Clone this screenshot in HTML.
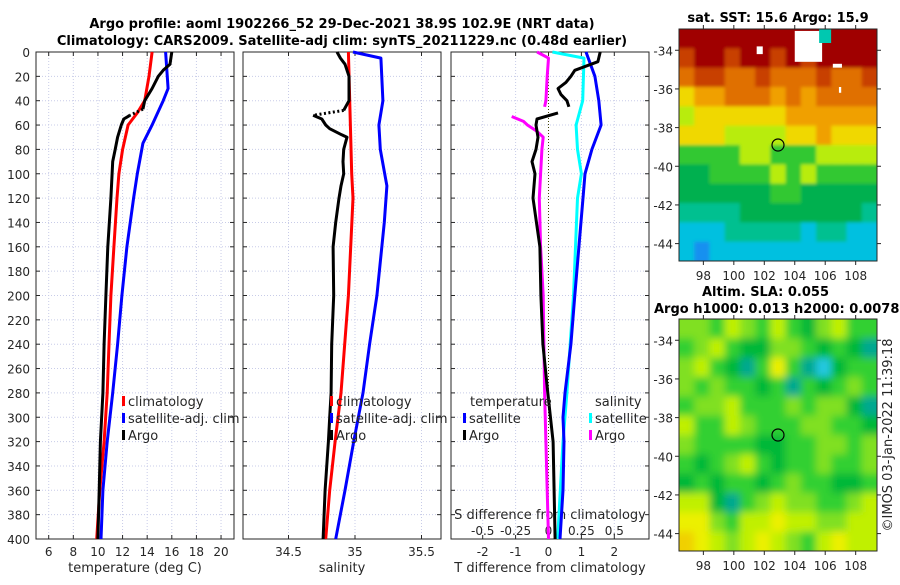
<!DOCTYPE html>
<html><head><meta charset="utf-8"><style>
body{margin:0;background:#fff}
svg text{font-family:"DejaVu Sans","Liberation Sans",sans-serif;fill:#262626}
.t{font-size:12px}
.b{font-weight:bold;font-size:13px;fill:#000}
</style></head><body>
<svg id="s" width="900" height="580" viewBox="0 0 900 580" xmlns="http://www.w3.org/2000/svg">
<defs>
<filter id="bl" x="0" y="0" width="1" height="1"><feGaussianBlur stdDeviation="4"/></filter>
<filter id="bl2" x="0" y="0" width="1" height="1"><feGaussianBlur stdDeviation="1.5"/></filter>
<clipPath id="c1"><rect x="679" y="29" width="198" height="232"/></clipPath>
<clipPath id="c2"><rect x="679" y="319" width="198" height="232"/></clipPath>
</defs>
<text class="b" x="342" y="28" text-anchor="middle">Argo profile: aoml 1902266_52 29-Dec-2021 38.9S 102.9E (NRT data)</text>
<text class="b" x="342" y="45" text-anchor="middle">Climatology: CARS2009. Satellite-adj clim: synTS_20211229.nc (0.48d earlier)</text>
<g id="g"></g>
</svg>
<script>
// ---------- data ----------
const tDepthArgo=[0,10,15,20,30,40,47,52,55,60,70,80,90,100,120,160,200,240,280,320,360,400];
const tArgo=[16.0,15.85,15.3,14.9,14.4,13.8,13.65,12.6,12.1,11.9,11.6,11.4,11.2,11.15,11.05,10.8,10.65,10.5,10.4,10.2,10.1,10.0];
const tDepthClim=[0,20,40,50,60,80,100,120,160,200,240,280,320,360,400];
const tClim=[14.4,14.15,13.8,13.2,12.45,12.0,11.7,11.55,11.3,11.05,10.9,10.75,10.5,10.15,9.9];
const tDepthSat=[0,30,40,60,75,100,120,160,200,240,280,320,360,400];
const tSat=[15.5,15.7,15.3,14.4,13.65,13.2,12.9,12.35,11.95,11.6,11.2,10.75,10.4,10.25];
const sDepthArgo=[0,5,10,20,40,48,52,55,60,63,68,70,80,90,100,110,120,140,160,200,240,280,300,320,360,400];
const sArgo=[34.865,34.89,34.925,34.955,34.955,34.915,34.685,34.75,34.78,34.81,34.9,34.94,34.915,34.91,34.915,34.895,34.88,34.855,34.835,34.84,34.825,34.82,34.81,34.8,34.775,34.76];
const sDepthClim=[0,100,120,200,280,320,360,400];
const sClim=[34.95,34.975,34.985,34.95,34.895,34.85,34.81,34.78];
const sDepthSat=[0,5,40,60,80,110,140,200,240,280,320,360,400];
const sSat=[34.985,35.195,35.21,35.18,35.19,35.24,35.22,35.165,35.11,35.06,34.99,34.925,34.855];
const dtDepthArgo=[0,8,15,20,25,30,35,40,45,null,50,55,60,70,80,90,100,120,160,200,240,280,320,360,400];
const dtArgo=[1.57,1.5,0.8,0.68,0.53,0.29,0.38,0.56,0.62,null,0.29,-0.35,-0.38,-0.32,-0.38,-0.5,-0.41,-0.47,-0.26,-0.23,-0.17,-0.02,0.14,0.17,0.2];
const dtDepthSat=[0,20,40,60,80,100,120,200,240,280,300,320,360,400];
const dtSat=[1.14,1.41,1.53,1.6,1.32,1.11,1.05,0.8,0.68,0.5,0.44,0.47,0.44,0.35];
const dsDepthArgo=[0,5,20,40,45,null,53,57,60,65,70,80,100,120,160,200,280,320,360,400];
const dsArgo=[-0.087,0,-0.01,-0.02,-0.03,null,-0.28,-0.19,-0.16,-0.09,-0.04,-0.05,-0.06,-0.07,-0.06,-0.04,-0.03,-0.02,-0.01,0];
const dsDepthSat=[0,5,40,60,80,100,120,200,280,320,360,400];
const dsSat=[0.03,0.27,0.26,0.21,0.22,0.25,0.22,0.19,0.14,0.11,0.09,0.07];
const depthTicks=[0,20,40,60,80,100,120,140,160,180,200,220,240,260,280,300,320,340,360,380,400];
const tTicks=[6,8,10,12,14,16,18,20];
const sTicks=[34.5,35,35.5];
const dtTicks=[-2,-1,0,1,2];
const dsTicks=[-0.5,-0.25,0,0.25,0.5];
const dsTickLabels=["-0.5","-0.25","0","0.25","0.5"];
const latTicks=[-34,-36,-38,-40,-42,-44];
const lonTicks=[98,100,102,104,106,108];
const sstGrid=[
[0,0,0,0,0,0,0,0,0,0,0,0,0],
[1,0,0,1,0,0,1,0,1,0,0,0,0],
[2,1,1,2,2,1,2,2,2,1,2,2,1],
[4,3,3,2,2,2,3,2,3,2,2,2,2],
[5,4,4,4,4,4,4,3,3,3,3,3,3],
[4,4,4,5,5,5,5,4,4,3,4,4,4],
[6,6,6,6,5,5,6,6,6,5,5,5,5],
[7,7,6,6,6,6,5,6,5,6,6,6,6],
[7,7,7,7,7,7,6,6,7,7,7,7,7],
[8,8,8,8,7,7,7,7,7,7,7,7,8],
[9,9,9,8,8,8,8,8,9,8,8,9,9],
[9,10,9,9,9,9,9,9,9,9,9,9,9]];
const slaGrid=[
[4,4,3,5,4,3,5,3,2,4,5,3,3],
[3,4,5,3,2,2,4,4,3,2,3,2,1],
[4,5,3,2,1,3,6,3,1,0,2,3,3],
[4,3,4,3,3,2,3,1,3,2,3,4,3],
[3,4,4,5,3,3,3,4,3,4,4,2,1],
[5,3,3,5,4,3,3,3,4,4,3,3,2],
[4,3,3,3,3,2,2,3,3,4,4,3,4],
[3,2,3,4,5,3,2,3,3,4,3,3,4],
[2,3,2,3,3,2,3,4,3,3,2,2,3],
[5,5,2,1,3,4,5,4,4,3,3,4,5],
[6,6,4,3,5,5,6,5,5,4,4,5,5],
[7,6,5,4,5,6,5,4,3,5,6,5,5]];
const argoLon=102.9, argoLat=-38.9;

// ---------- drawing ----------
const NS="http://www.w3.org/2000/svg";
const G=document.getElementById('g');
function mk(tag,at,parent){const e=document.createElementNS(NS,tag);for(const k in at)e.setAttribute(k,at[k]);(parent||G).appendChild(e);return e;}
const Y0=52,Y1=539;
const yD=d=>Y0+d*(Y1-Y0)/400;
const xT=v=>48.7+(v-6)*12.31;
const xS=v=>355+(v-35)*133;
const xDT=v=>548.5+v*32.9;
const xDS=v=>548.5+v*131.6;
const panels=[[36,234],[243,441],[451,649]];

panels.forEach((p,i)=>{
  const fr=mk('g',{});
  
  
  let xt=i==0?tTicks.map(xT):i==1?sTicks.map(xS):dtTicks.map(xDT);
  xt.forEach(x=>{const l=mk('line',{x1:x,x2:x,y1:Y0,y2:Y1,stroke:'#c8cce8','stroke-dasharray':'1,2','stroke-width':1},fr);
    mk('line',{x1:x,x2:x,y1:Y1,y2:Y1-4,stroke:'#262626'},fr);mk('line',{x1:x,x2:x,y1:Y0,y2:Y0+4,stroke:'#262626'},fr);});
  depthTicks.forEach(d=>{const y=yD(d);const l=mk('line',{x1:p[0],x2:p[1],y1:y,y2:y,stroke:'#c8cce8','stroke-dasharray':'1,2'},fr);
    mk('line',{x1:p[0],x2:p[0]+4,y1:y,y2:y,stroke:'#262626'},fr);mk('line',{x1:p[1],x2:p[1]-4,y1:y,y2:y,stroke:'#262626'},fr);});
  mk('rect',{x:p[0],y:Y0,width:p[1]-p[0],height:Y1-Y0,fill:'none',stroke:'#262626','stroke-width':1},fr);
});
depthTicks.forEach(d=>{const t=mk('text',{x:30,y:yD(d)+5,'text-anchor':'end',class:'t'});t.textContent=d;
});
function xlab(vals,labels,fx,y){vals.forEach((v,i)=>{const t=mk('text',{x:fx(v),y:y,'text-anchor':'middle',class:'t'});t.textContent=labels[i];
});}
xlab(tTicks,tTicks,xT,556);xlab(sTicks,sTicks,xS,556);xlab(dtTicks,dtTicks,xDT,556);
xlab(dsTicks,dsTickLabels,xDS,535);
function txt(s,x,y,name,anchor,cls,extra){const t=mk('text',Object.assign({x:x,y:y,'text-anchor':anchor||'start',class:cls||'t'},extra||{}));t.textContent=s;
return t;}
txt('temperature (deg C)',135,572,'x-axis-title-temperature','middle','t',{style:'font-size:13px'});
txt('salinity',342,572,'x-axis-title-salinity','middle','t',{style:'font-size:13px'});
txt('T difference from climatology',550,572,'x-axis-title-t-diff','middle','t',{style:'font-size:13px'});
txt('S difference from climatology',550,519,'x-axis-title-s-diff','middle','t',{style:'font-size:13px'});
const zl=mk('line',{x1:xDT(0),x2:xDT(0),y1:Y0,y2:Y1,stroke:'#404000','stroke-dasharray':'1,2'});


function series(depths,vals,fx,color,name,dottedStart){
  const g=mk('g',{});
  let pts=[];
  const flush=()=>{if(pts.length>1)mk('polyline',{points:pts.join(' '),fill:'none',stroke:color,'stroke-width':3,'stroke-linejoin':'round'},g);pts=[];};
  for(let i=0;i<vals.length;i++){
    if(vals[i]===null){flush();continue;}
    const p=fx(vals[i]).toFixed(1)+','+yD(depths[i]).toFixed(1);
    if(dottedStart!==undefined && i>0 && depths[i-1]===dottedStart){
      const q=pts[pts.length-1];flush();
      mk('line',{x1:q.split(',')[0],y1:q.split(',')[1],x2:p.split(',')[0],y2:p.split(',')[1],stroke:color,'stroke-width':3,'stroke-dasharray':'2,2.5'},g);
    }
    pts.push(p);
  }
  flush();
}
series(tDepthClim,tClim,xT,'#ff0000','temp-climatology-line');
series(tDepthSat,tSat,xT,'#0000ff','temp-satellite-line');
series(tDepthArgo,tArgo,xT,'#000','temp-argo-line',47);
series(sDepthClim,sClim,xS,'#ff0000','sal-climatology-line');
series(sDepthSat,sSat,xS,'#0000ff','sal-satellite-line');
series(sDepthArgo,sArgo,xS,'#000','sal-argo-line',48);
series(dsDepthArgo,dsArgo,xDS,'#ff00ff','s-diff-argo-line');
series(dsDepthSat,dsSat,xDS,'#00ffff','s-diff-satellite-line');
series(dtDepthSat,dtSat,xDT,'#0000ff','t-diff-satellite-line');
series(dtDepthArgo,dtArgo,xDT,'#000','t-diff-argo-line');

function leg(x,y,color,label,name){const g=mk('g',{});
  mk('rect',{x:x,y:y-10,width:3,height:10,fill:color},g);
  const t=mk('text',{x:x+6,y:y,class:'t',style:'font-size:13px'},g);t.textContent=label;}
leg(122,406,'#ff0000','climatology','legend-entry-climatology');
leg(122,423,'#0000ff','satellite-adj. clim','legend-entry-satellite');
leg(122,440,'#000','Argo','legend-entry-argo');
leg(330,406,'#ff0000','climatology','legend-entry-climatology-2');
leg(330,423,'#0000ff','satellite-adj. clim','legend-entry-satellite-2');
leg(330,440,'#000','Argo','legend-entry-argo-2');
txt('temperature',470,406,'legend-title-temperature','start','t',{style:'font-size:13px'});
leg(463,423,'#0000ff','satellite','legend-entry-t-satellite');
leg(463,440,'#000','Argo','legend-entry-t-argo');
txt('salinity',595,406,'legend-title-salinity','start','t',{style:'font-size:13px'});
leg(589,423,'#00ffff','satellite','legend-entry-s-satellite');
leg(589,440,'#ff00ff','Argo','legend-entry-s-argo');

const LON0=96.4,LON1=109.4,LAT0=-32.9,LAT1=-44.9;
const mx=l=>679+(l-LON0)*198/(LON1-LON0);
const myF=top=>(la=>top+(la-LAT0)*232/(LAT1-LAT0));
const sstCols=['#a00000','#c84000','#e07000','#f0a000','#f0d800','#b8ec10','#30c830','#00b050','#00c090','#00c0e0','#1890f0'];
const slaCols=['#20c8e0','#00a890','#00b838','#30d030','#80e020','#c0f000','#ecf000','#f0d000'];
function drawMap(grid,cols,top,clip,name,blur){
  const g=mk('g',{'clip-path':'url(#'+clip+')'});
  const my=myF(top);
  mk('rect',{x:679,y:top,width:198,height:232,fill:cols[grid[0][0]]},g);
  const inner=mk('g',{filter:'url(#'+blur+')'},g);
  mk('rect',{x:670,y:top-10,width:220,height:252,fill:cols[3]},inner);
  grid.forEach((row,r)=>row.forEach((v,c)=>{
    const x0=mx(LON0+c),x1=mx(LON0+c+1),y0=my(LAT0-r),y1=my(LAT0-r-1);
    const padT=r==0?-10:0,padB=r==grid.length-1?10:0,padL=c==0?-10:0,padR=c==row.length-1?10:0;
    mk('rect',{x:x0+padL,y:y0+padT,width:x1-x0+padR-padL+0.5,height:y1-y0+padB-padT+0.5,fill:cols[v]},inner);
  }));
  return {g,my};
}
const m1=drawMap(sstGrid,sstCols,29,'c1','sst-map','bl2');
[[104,-33.0,1.8,1.6],[101.5,-33.8,0.4,0.4],[106.5,-34.7,0.6,0.2],[106.9,-35.9,0.15,0.3]].forEach(p=>{
  mk('rect',{x:mx(p[0]),y:m1.my(p[1]),width:p[2]*15.2,height:p[3]*19.3,fill:'#fff'},m1.g);});
mk('rect',{x:mx(105.6),y:m1.my(-32.9),width:12,height:14,fill:'#00c8b0'},m1.g);
const m2=drawMap(slaGrid,slaCols,319,'c2','sla-map','bl');
[[m1,29],[m2,319]].forEach(([m,top],k)=>{
  const c=mk('circle',{cx:mx(argoLon),cy:m.my(argoLat),r:6,fill:'none',stroke:'#000','stroke-width':1.2});
  
  mk('rect',{x:679,y:top,width:198,height:232,fill:'none',stroke:'#262626'});
  latTicks.forEach(la=>{const y=m.my(la);mk('line',{x1:877,x2:881,y1:y,y2:y,stroke:'#262626'});mk('line',{x1:675,x2:679,y1:y,y2:y,stroke:'#262626'});
    txt(String(la),673,y+5,'lat-tick-label','end');});
  lonTicks.forEach(lo=>{const x=mx(lo);mk('line',{x1:x,x2:x,y1:top+232,y2:top+236,stroke:'#262626'});mk('line',{x1:x,x2:x,y1:top,y2:top-4,stroke:'#262626'});
    txt(lo,x,top+251,'lon-tick-label','middle');});
});
txt('sat. SST: 15.6 Argo: 15.9',778,22,'sst-map-title','middle','b');
txt('Altim. SLA: 0.055',702,296,'sla-map-title','start','b');
txt('Argo h1000: 0.013 h2000: 0.0078',654,313,'sla-map-subtitle','start','b');
txt('\u00a9IMOS 03-Jan-2022 11:39:18',0,0,'timestamp-credit','middle','t',{transform:'translate(892,435) rotate(-90)',style:'font-size:13px'});
</script>
</body></html>
